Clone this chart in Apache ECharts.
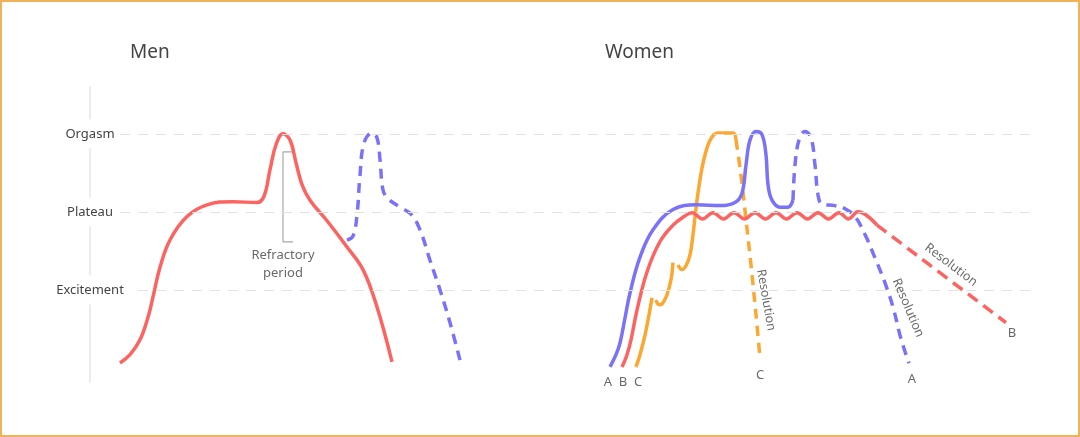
<!DOCTYPE html>
<html>
<head>
<meta charset="utf-8">
<script src="https://cdn.jsdelivr.net/npm/echarts@6/dist/echarts.min.js"></script>
<style>
html,body{margin:0;padding:0;background:#fff;}
#c{width:1080px;height:437px;}
</style>
</head>
<body>
<div id="c"></div>
<script>
// Arousal levels (y axis)
const levelValues = [1, 2, 3];
const levelNames = ['Excitement', 'Plateau', 'Orgasm'];
const panelTitles = ['Men', 'Women'];

// Men: first cycle (solid) and second cycle (dashed)
const menFirst = [[0,0.064],[1,0.17],[2,0.36],[2.8,0.65],[3.3,0.91],[4,1.29],[5,1.64],[6.7,1.94],[8.7,2.09],[11.3,2.13],[13.7,2.12],[14.4,2.2],[15,2.54],[15.6,2.86],[16.3,3.0],[17,2.92],[17.6,2.63],[18.2,2.35],[19,2.15],[20.8,1.87],[22.7,1.55],[24.3,1.26],[25.7,0.78],[27.2,0.077]];
const menSecond = [[22.7,1.64],[23.3,1.69],[23.7,1.96],[24,2.47],[24.4,2.88],[25.2,3.01],[25.7,2.95],[26,2.67],[26.3,2.28],[26.8,2.17],[28,2.06],[29.1,1.97],[30,1.77],[31,1.38],[32,1.0],[33,0.58],[34,0.1]];
const refractoryBracket = [[17.3,2.77],[16.3,2.77],[16.3,1.615],[17.3,1.615]];

// Women: pattern A (blue), B (red), C (orange)
const womenA = [[49,0.013],[49.6,0.17],[50,0.32],[50.5,0.64],[51,0.96],[52,1.42],[53.3,1.77],[55.3,2.03],[57.7,2.09],[60,2.08],[61.5,2.12],[62.2,2.24],[62.6,2.6],[63,2.92],[63.6,3.03],[64.2,2.99],[64.6,2.73],[64.8,2.35],[65.2,2.15],[66,2.06],[66.8,2.06],[67.3,2.15]];
const womenAResolve = [[67.3,2.15],[67.5,2.6],[67.9,2.92],[68.5,3.03],[69.1,2.95],[69.5,2.6],[69.8,2.22],[70.2,2.1],[71.5,2.08],[72.5,2.04],[73.5,1.94],[74.5,1.71],[75.5,1.41],[76.5,1.09],[77.3,0.78],[78,0.42],[78.5,0.21],[78.9,0.06]];
const womenB = [[50.2,0.013],[50.7,0.17],[51.1,0.36],[51.7,0.74],[52.7,1.23],[54,1.62],[55.3,1.83],[56.4,1.94],[57.2,1.99],[58.25,1.91],[59.3,1.99],[60.35,1.91],[61.4,1.99],[62.45,1.91],[63.5,1.99],[64.55,1.91],[65.6,1.99],[66.65,1.91],[67.7,1.99],[68.75,1.91],[69.8,1.99],[70.85,1.91],[71.9,1.99],[72.85,1.91],[73.8,2.0],[74.7,1.95],[75.7,1.83]];
const womenBResolve = [[75.7,1.83],[88.6,0.58]];
const womenC = [[51.6,0.013],[52,0.17],[52.5,0.42],[52.9,0.68],[53.2,0.9],[53.2,'-'],[53.6,0.87],[53.9,0.81],[54.2,0.82],[54.7,0.94],[55.1,1.13],[55.3,1.35],[55.3,'-'],[55.8,1.32],[56.2,1.26],[56.6,1.31],[57,1.45],[57.3,1.71],[57.7,2.15],[58.2,2.56],[58.7,2.82],[59.2,2.96],[59.8,3.01],[61.3,3.01],[61.6,2.92]];
const womenCResolve = [[61.6,2.92],[62.1,2.47],[62.6,1.9],[63.1,1.32],[63.6,0.68],[64,0.13]];

// Gridline spans per level [start, end] along the time axis
const gridSpans = [[1.8, 91], [0, 91], [0, 91]];

// Annotations
const letterLabels = [['A',48.8,-0.19],['B',50.3,-0.19],['C',51.8,-0.19],['C',64,-0.10],['A',79.2,-0.15],['B',89.2,0.44]];
const resolutionLabels = [['Resolution',64.6,0.87,-80],['Resolution',78.8,0.77,-67],['Resolution',83.1,1.32,-37]];
const refractoryLabel = [['Refractory\nperiod',16.3,1.33]];

const RED = '#fb6460', BLUE = '#7a72f8', ORANGE = '#fba732', TXT = '#444';
const FONT = 'Noto Sans';

function curve(data, color, dashed, dash) {
  return {
    type: 'line', data: data, smooth: 0.4, showSymbol: false, symbol: 'none',
    connectNulls: false, clip: false, silent: true, z: 3,
    lineStyle: { color: color, width: 3.5, type: dashed ? (dash || [10, 7]) : 'solid' }
  };
}

const chart = echarts.init(document.getElementById('c'), null, { renderer: 'canvas' });
chart.setOption({
  animation: false,
  backgroundColor: '#fff',
  textStyle: { fontFamily: FONT },
  title: [
    { text: panelTitles[0], left: 130, top: 40, padding: 0, textStyle: { fontFamily: FONT, fontSize: 19, fontWeight: 'normal', color: TXT, lineHeight: 26 } },
    { text: panelTitles[1], left: 605, top: 40, padding: 0, textStyle: { fontFamily: FONT, fontSize: 19, fontWeight: 'normal', color: TXT, lineHeight: 26 } }
  ],
  grid: { left: 90, right: 50, top: 87, bottom: 55 },
  xAxis: { type: 'value', min: -3, max: 91, show: false },
  yAxis: {
    type: 'value', min: -0.18, max: 3.6,
    axisLine: { show: true, onZero: false, lineStyle: { color: '#e6e6e6', width: 1.5 } },
    axisTick: { show: false },
    splitLine: { show: false },
    axisLabel: {
      customValues: levelValues,
      formatter: function (v) { const i = levelValues.indexOf(Math.round(v)); return i >= 0 ? levelNames[i] : ''; },
      align: 'center', margin: 0, color: TXT, fontSize: 13, fontFamily: FONT,
      backgroundColor: '#fff', padding: [8, 6]
    }
  },
  graphic: [{ type: 'rect', shape: { x: 1, y: 1, width: 1078, height: 435 }, style: { fill: 'none', stroke: '#f0b35a', lineWidth: 2 }, silent: true, z: 100 }],
  series: [
    {
      type: 'line', data: [], silent: true, z: 1,
      markLine: {
        silent: true, symbol: 'none', label: { show: false },
        lineStyle: { color: '#e2e2e2', width: 1.2, type: [10, 8] },
        data: levelValues.map((v, i) => [{ coord: [gridSpans[i][0], v] }, { coord: [gridSpans[i][1], v] }])
      }
    },
    {
      type: 'line', data: refractoryBracket, showSymbol: false, symbol: 'none', silent: true, z: 2,
      lineStyle: { color: '#a8a8a8', width: 1.2 }
    },
    curve(menSecond, BLUE, true),
    curve(menFirst, RED, false),
    curve(womenCResolve, ORANGE, true),
    curve(womenC, ORANGE, false),
    curve(womenBResolve, RED, true, [12, 7]),
    curve(womenB, RED, false),
    curve(womenAResolve, BLUE, true),
    curve(womenA, BLUE, false),
    {
      type: 'scatter', symbolSize: 0, silent: true, clip: false, z: 5,
      data: letterLabels.map(d => ({ value: [d[1], d[2]], name: d[0] })),
      label: { show: true, position: 'inside', formatter: '{b}', color: TXT, fontSize: 13, fontFamily: FONT }
    },
    {
      type: 'scatter', symbolSize: 0, silent: true, clip: false, z: 5,
      data: resolutionLabels.map(d => ({ value: [d[1], d[2]], name: d[0], label: { rotate: d[3] } })),
      label: { show: true, position: 'inside', formatter: '{b}', color: TXT, fontSize: 12.5, fontFamily: FONT }
    },
    {
      type: 'scatter', symbolSize: 0, silent: true, clip: false, z: 5,
      data: refractoryLabel.map(d => ({ value: [d[1], d[2]], name: d[0] })),
      label: { show: true, position: 'inside', formatter: '{b}', color: TXT, fontSize: 13, lineHeight: 18, fontFamily: FONT }
    }
  ]
});
</script>
</body>
</html>
